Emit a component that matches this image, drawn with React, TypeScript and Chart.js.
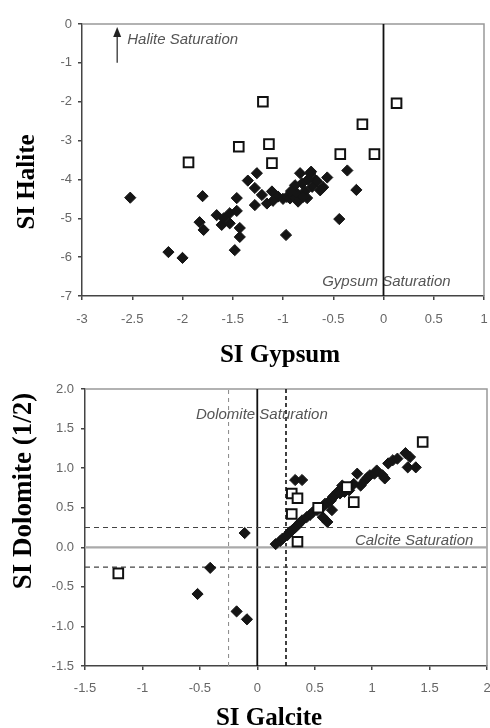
import React, { useEffect, useRef } from "react";
import { Chart, registerables } from "chart.js";
Chart.register(...registerables);

// ---------- Top panel: SI Gypsum (x) vs SI Halite (y) ----------
const gypDiamondX = [-2.52, -2.14, -2.0, -1.83, -1.79, -1.8, -1.66, -1.61, -1.59, -1.53, -1.53, -1.48, -1.46, -1.46, -1.43, -1.43, -1.35, -1.26, -1.28, -1.21, -1.28, -1.16, -1.11, -1.05, -1.0, -0.96, -0.93, -0.9, -0.86, -0.85, -0.83, -0.81, -0.78, -0.76, -0.73, -0.72, -0.71, -0.68, -0.66, -0.63, -0.56, -0.36, -0.27, -0.44, -0.97, -0.88, -0.8, -1.1, -0.92, -0.75, -0.6];
const halDiamondY = [-4.47, -5.87, -6.02, -5.1, -5.3, -4.43, -4.92, -5.17, -5.0, -4.87, -5.13, -5.82, -4.81, -4.48, -5.25, -5.48, -4.03, -3.84, -4.22, -4.4, -4.66, -4.62, -4.31, -4.44, -4.5, -4.45, -4.49, -4.42, -4.36, -4.57, -3.84, -4.1, -4.3, -4.48, -3.84, -3.8, -4.19, -4.01, -4.05, -4.28, -3.95, -3.77, -4.27, -5.02, -5.43, -4.15, -4.45, -4.55, -4.3, -4.0, -4.2];
const gypSquareX = [-1.2, 0.13, -0.21, -1.44, -1.14, -1.94, -1.11, -0.43, -0.09];
const halSquareY = [-2.0, -2.04, -2.58, -3.16, -3.09, -3.56, -3.58, -3.35, -3.35];
const gypTicks = [-3, -2.5, -2, -1.5, -1, -0.5, 0, 0.5, 1];
const gypTickLabels = ["-3", "-2.5", "-2", "-1.5", "-1", "-0.5", "0", "0.5", "1"];
const halTicks = [-7, -6, -5, -4, -3, -2, -1, 0];
const halTickLabels = ["-7", "-6", "-5", "-4", "-3", "-2", "-1", "0"];
const gypsumSaturation = 0;

// ---------- Bottom panel: SI Calcite (x) vs SI Dolomite 1/2 (y) ----------
const calDiamondX = [-0.11, -0.41, -0.52, -0.18, -0.09, 0.16, 0.2, 0.22, 0.26, 0.28, 0.3, 0.33, 0.35, 0.37, 0.39, 0.43, 0.46, 0.48, 0.52, 0.57, 0.59, 0.62, 0.64, 0.66, 0.68, 0.7, 0.72, 0.74, 0.61, 0.57, 0.65, 0.87, 0.9, 0.94, 0.96, 0.98, 1.02, 1.04, 1.09, 1.11, 1.14, 1.18, 1.22, 1.29, 1.33, 1.31, 1.38, 0.33, 0.39, 0.8, 0.76, 0.84];
const dolDiamondY = [0.18, -0.26, -0.59, -0.81, -0.91, 0.04, 0.08, 0.11, 0.15, 0.19, 0.21, 0.25, 0.28, 0.31, 0.34, 0.38, 0.41, 0.44, 0.47, 0.51, 0.55, 0.57, 0.59, 0.64, 0.66, 0.7, 0.68, 0.78, 0.32, 0.38, 0.47, 0.93, 0.78, 0.85, 0.88, 0.91, 0.93, 0.97, 0.91, 0.87, 1.06, 1.1, 1.12, 1.19, 1.14, 1.01, 1.01, 0.85, 0.85, 0.72, 0.7, 0.8];
const calSquareX = [1.44, 0.78, 0.84, 0.53, 0.3, 0.35, 0.3, 0.35, -1.21];
const dolSquareY = [1.33, 0.76, 0.57, 0.5, 0.68, 0.62, 0.42, 0.07, -0.33];
const calTicks = [-1.5, -1, -0.5, 0, 0.5, 1, 1.5, 2];
const calTickLabels = ["-1.5", "-1", "-0.5", "0", "0.5", "1", "1.5", "2"];
const dolTicks = [-1.5, -1, -0.5, 0, 0.5, 1, 1.5, 2];
const dolTickLabels = ["-1.5", "-1.0", "-0.5", "0.0", "0.5", "1.0", "1.5", "2.0"];
const calciteSaturation = 0;
const dolomiteSaturation = 0;
const equilibriumBand = 0.25;

const TICK_FONT = { family: '"Liberation Sans", Arial, sans-serif', size: 13 };
const NOTE_FONT = 'italic 15px "Liberation Sans", Arial, sans-serif';
const TITLE_FAMILY = '"Liberation Serif", "Times New Roman", serif';

function pts(xs: number[], ys: number[]) {
  return xs.map((x, i) => ({ x, y: ys[i] }));
}

function axis(min: number, max: number, ticks: number[], labels: string[], pad: number, fit: { width?: number; height?: number }) {
  return {
    type: "linear",
    min,
    max,
    afterBuildTicks: (s: any) => {
      s.ticks = ticks.map((v) => ({ value: v }));
    },
    afterFit: (s: any) => {
      if (fit.width !== undefined) s.width = fit.width;
      if (fit.height !== undefined) s.height = fit.height;
      s.paddingLeft = 0;
      s.paddingRight = 0;
      s.paddingTop = 0;
      s.paddingBottom = 0;
    },
    ticks: {
      callback: (_v: any, i: number) => labels[i],
      font: TICK_FONT,
      color: "#666",
      padding: pad,
      autoSkip: false,
      maxRotation: 0,
    },
    grid: { drawOnChartArea: false, drawTicks: true, tickLength: 4, color: "#444", lineWidth: 1.5 },
    border: { display: true, color: "#444", width: 1.5 },
  };
}

function lineDs(data: { x: number; y: number }[], color: string, width: number, dash: number[] = []) {
  return {
    data,
    showLine: true,
    borderColor: color,
    borderWidth: width,
    borderDash: dash,
    pointRadius: 0,
    fill: false,
    order: 10,
  };
}

function frame(ctx: CanvasRenderingContext2D, a: any) {
  ctx.save();
  ctx.strokeStyle = "#999";
  ctx.lineWidth = 1.5;
  ctx.beginPath();
  ctx.moveTo(a.left, a.top);
  ctx.lineTo(a.right, a.top);
  ctx.lineTo(a.right, a.bottom);
  ctx.stroke();
  ctx.restore();
}

function note(ctx: CanvasRenderingContext2D, text: string, x: number, y: number, align: CanvasTextAlign) {
  ctx.save();
  ctx.font = NOTE_FONT;
  ctx.fillStyle = "#555";
  ctx.textAlign = align;
  ctx.textBaseline = "middle";
  ctx.fillText(text, x, y);
  ctx.restore();
}

function title(ctx: CanvasRenderingContext2D, text: string, x: number, y: number, size: number, rotate: boolean) {
  ctx.save();
  ctx.font = `bold ${size}px ${TITLE_FAMILY}`;
  ctx.fillStyle = "#000";
  ctx.textAlign = "center";
  ctx.textBaseline = "middle";
  ctx.translate(x, y);
  if (rotate) ctx.rotate(-Math.PI / 2);
  ctx.fillText(text, 0, 0);
  ctx.restore();
}

const diamondStyle = {
  pointStyle: "rectRot",
  pointRadius: 5.6,
  backgroundColor: "#151515",
  borderColor: "#151515",
  borderWidth: 1,
  showLine: false,
  order: 2,
};
const squareStyle = {
  pointStyle: "rect",
  pointRadius: 6.8,
  backgroundColor: "#fff",
  borderColor: "#111",
  borderWidth: 2,
  showLine: false,
  order: 1,
};

function TopChart() {
  const ref = useRef<HTMLCanvasElement>(null);
  useEffect(() => {
    const decor = {
      id: "decorTop",
      beforeDatasetsDraw(chart: any) {
        const { ctx, chartArea, scales } = chart;
        frame(ctx, chartArea);
        const xs = scales.x, ys = scales.y;
        const ax = xs.getPixelForValue(-2.65);
        const y0 = ys.getPixelForValue(-1.0);
        const y1 = ys.getPixelForValue(-0.08);
        ctx.save();
        ctx.strokeStyle = "#222";
        ctx.fillStyle = "#222";
        ctx.lineWidth = 1.2;
        ctx.beginPath();
        ctx.moveTo(ax, y0);
        ctx.lineTo(ax, y1 + 8);
        ctx.stroke();
        ctx.beginPath();
        ctx.moveTo(ax, y1);
        ctx.lineTo(ax - 4, y1 + 10);
        ctx.lineTo(ax + 4, y1 + 10);
        ctx.closePath();
        ctx.fill();
        ctx.restore();
        note(ctx, "Halite Saturation", xs.getPixelForValue(-2.55), ys.getPixelForValue(-0.41), "left");
        note(ctx, "Gypsum Saturation", xs.getPixelForValue(-0.61), ys.getPixelForValue(-6.64), "left");
      },
      afterDraw(chart: any) {
        const { ctx } = chart;
        title(ctx, "SI Halite", 28, 182, 25, true);
        title(ctx, "SI Gypsum", 280, 356, 25, false);
      },
    };
    const chart = new Chart(ref.current!, {
      type: "scatter",
      data: {
        datasets: [
          { ...squareStyle, data: pts(gypSquareX, halSquareY) },
          { ...diamondStyle, data: pts(gypDiamondX, halDiamondY) },
          lineDs([{ x: gypsumSaturation, y: -7 }, { x: gypsumSaturation, y: 0 }], "#111", 1.8),
        ] as any,
      },
      options: {
        responsive: false,
        animation: false,
        events: [],
        layout: { autoPadding: false, padding: { top: 24, right: 6, left: 0, bottom: 0 } },
        plugins: { legend: { display: false }, tooltip: { enabled: false } },
        scales: {
          x: axis(-3, 1, gypTicks, gypTickLabels, 12, { height: 80 }),
          y: axis(-7, 0, halTicks, halTickLabels, 6, { width: 82 }),
        } as any,
      },
      plugins: [decor],
    });
    return () => chart.destroy();
  }, []);
  return <canvas ref={ref} width={490} height={376} style={{ display: "block" }} />;
}

function BottomChart() {
  const ref = useRef<HTMLCanvasElement>(null);
  useEffect(() => {
    const decor = {
      id: "decorBottom",
      beforeDatasetsDraw(chart: any) {
        const { ctx, chartArea } = chart;
        frame(ctx, chartArea);
      },
      afterDatasetsDraw(chart: any) {
        const { ctx, scales } = chart;
        const xs = scales.x, ys = scales.y;
        note(ctx, "Dolomite Saturation", xs.getPixelForValue(0.04), ys.getPixelForValue(1.67), "center");
        note(ctx, "Calcite Saturation", xs.getPixelForValue(0.85), ys.getPixelForValue(0.08), "left");
      },
      afterDraw(chart: any) {
        const { ctx } = chart;
        title(ctx, "SI Dolomite (1/2)", 24, 115, 27, true);
        title(ctx, "SI Galcite", 269, 343, 25, false);
      },
    };
    const chart = new Chart(ref.current!, {
      type: "scatter",
      data: {
        datasets: [
          { ...squareStyle, data: pts(calSquareX, dolSquareY) },
          { ...diamondStyle, data: pts(calDiamondX, dolDiamondY) },
          lineDs([{ x: -1.5, y: calciteSaturation }, { x: 2, y: calciteSaturation }], "#aaa", 2.2),
          lineDs([{ x: -1.5, y: equilibriumBand }, { x: 2, y: equilibriumBand }], "#444", 1.2, [5, 4]),
          lineDs([{ x: -1.5, y: -equilibriumBand }, { x: 2, y: -equilibriumBand }], "#444", 1.2, [5, 4]),
          lineDs([{ x: -equilibriumBand, y: -1.5 }, { x: -equilibriumBand, y: 2 }], "#888", 1, [4, 4]),
          lineDs([{ x: equilibriumBand, y: -1.5 }, { x: equilibriumBand, y: 2 }], "#111", 1.6, [4, 3]),
          lineDs([{ x: dolomiteSaturation, y: -1.5 }, { x: dolomiteSaturation, y: 2 }], "#111", 1.8),
        ] as any,
      },
      options: {
        responsive: false,
        animation: false,
        events: [],
        layout: { autoPadding: false, padding: { top: 13, right: 3, left: 0, bottom: 0 } },
        plugins: { legend: { display: false }, tooltip: { enabled: false } },
        scales: {
          x: axis(-1.5, 2, calTicks, calTickLabels, 11, { height: 62 }),
          y: axis(-1.5, 2, dolTicks, dolTickLabels, 7, { width: 85 }),
        } as any,
      },
      plugins: [decor],
    });
    return () => chart.destroy();
  }, []);
  return <canvas ref={ref} width={490} height={352} style={{ display: "block" }} />;
}

export default function App() {
  return (
    <div style={{ position: "absolute", left: 0, top: 0, width: 490, height: 728, background: "#fff", overflow: "hidden" }}>
      <TopChart />
      <BottomChart />
    </div>
  );
}
